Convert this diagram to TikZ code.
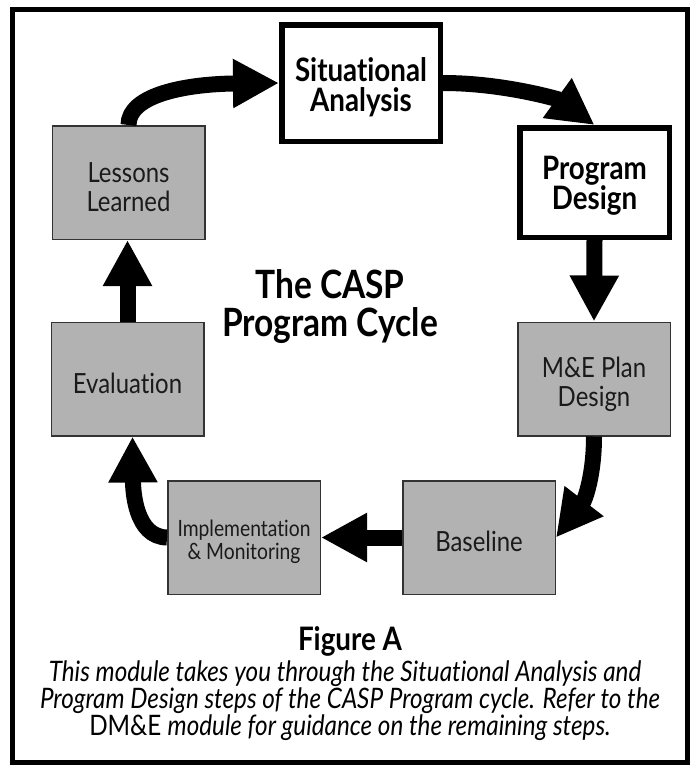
\documentclass[tikz,border=0pt]{standalone}
\usepackage{fontspec}
\setmainfont[Ligatures={NoCommon}, FakeStretch=0.86]{Lato}
\usetikzlibrary{arrows.meta}
\newlength\fitlen
\newcommand\fitsize[3]{%
  \settowidth\fitlen{\fontsize{10pt}{12pt}\selectfont #2}%
  \pgfmathsetmacro\fitfs{10*#1/\fitlen}%
  \fontsize{\fitfs pt}{#3}\selectfont}
\newcommand\capfont{\itshape\fitsize{620}{Program Design steps of the CASP Program cycle. Refer to the}{27pt}}
\definecolor{boxgray}{HTML}{B2B2B2}
\definecolor{edgegray}{HTML}{333333}
\definecolor{inktext}{HTML}{1A1A1A}
\begin{document}
\begin{tikzpicture}[x=1pt,y=-1pt,
  keybox/.style={draw=black, line width=5.5pt, fill=white, inner sep=0pt},
  graybox/.style={draw=edgegray, line width=1.5pt, fill=boxgray, inner sep=0pt,
    minimum width=152.5pt, minimum height=113.5pt},
  keytext/.style={inner sep=0pt, align=center, font={\bfseries\fitsize{132}{Situational}{30pt}}},
  graytext/.style={inner sep=0pt, align=center, text=inktext, font={\fitsize{82}{Lessons}{29pt}}},
  bigarrow/.style={line width=16pt, -{Triangle[length=46pt,width=46pt]}},
  titletext/.style={inner sep=0pt, align=center, font={\bfseries\fitsize{216}{Program Cycle}{38pt}}},
  captext/.style={anchor=base, inner sep=0pt}
]
\useasboundingbox (0,0) rectangle (694,766);
\fill[white] (0,0) rectangle (694,766);
\draw[line width=5pt] (12.5,9) rectangle (687.5,762.5);

\node[keybox, minimum width=158.5pt, minimum height=116.5pt] (Sit) at (361,83) {};
\node[keybox, minimum width=149.5pt, minimum height=109.5pt] (PD) at (594.5,182.5) {};
\node[graybox] (Less) at (128.5,182.5) {};
\node[graybox] (ME) at (594,379) {};
\node[graybox] (Eval) at (127.5,379) {};
\node[graybox] (Impl) at (244,537.5) {};
\node[graybox] (Base) at (479,537.5) {};

\node[keytext] (SitT) at ([yshift=-4pt]Sit.center) {Situational\\Analysis};
\node[keytext] (PDT) at ([yshift=-3pt]PD.center) {Program\\Design};
\node[graytext] (LessT) at ([yshift=-5pt]Less.center) {Lessons\\Learned};
\node[graytext] (MET) at ([yshift=-5pt]ME.center) {M\&E Plan\\Design};
\node[graytext] (EvalT) at ([yshift=-4pt]Eval.center) {Evaluation};
\node[graytext, font={\fitsize{133}{Implementation}{23pt}}] (ImplT) at ([yshift=-4pt]Impl.center) {Implementation\\\& Monitoring};
\node[graytext] (BaseT) at ([yshift=-4pt]Base.center) {Baseline};

\draw[bigarrow] (Less.north) .. controls (128.5,95) and (185,84) .. (Sit.west);
\draw[bigarrow] (Sit.east) .. controls (505,83) and (560,100) .. (PD.north);
\draw[bigarrow] (PD.south) -- (ME.north);
\draw[bigarrow] (ME.south) .. controls (594,475) and (585,500) .. (Base.east);
\draw[bigarrow] (Base.west) -- (Impl.east);
\draw[bigarrow] (Impl.west) .. controls (135,537) and (133,490) .. ([xshift=5pt]Eval.south);
\draw[bigarrow] (Eval.north) -- (Eval.north |- Less.south);

\node[titletext] (Title) at (330,307) {The CASP\\Program Cycle};

\node[captext, font={\bfseries\fitsize{104}{Figure A}{30pt}}] (Fig) at (350,650) {Figure A};
\node[captext, font=\capfont] (C1) at (345,681) {This module takes you through the Situational Analysis and};
\node[captext, font=\capfont] (C2) at (350,708) {Program Design steps of the CASP Program cycle. Refer to the};
\node[captext, font=\capfont] (C3) at (350,735) {\upshape DM\&E \itshape module for guidance on the remaining steps.};
\end{tikzpicture}
\end{document}
